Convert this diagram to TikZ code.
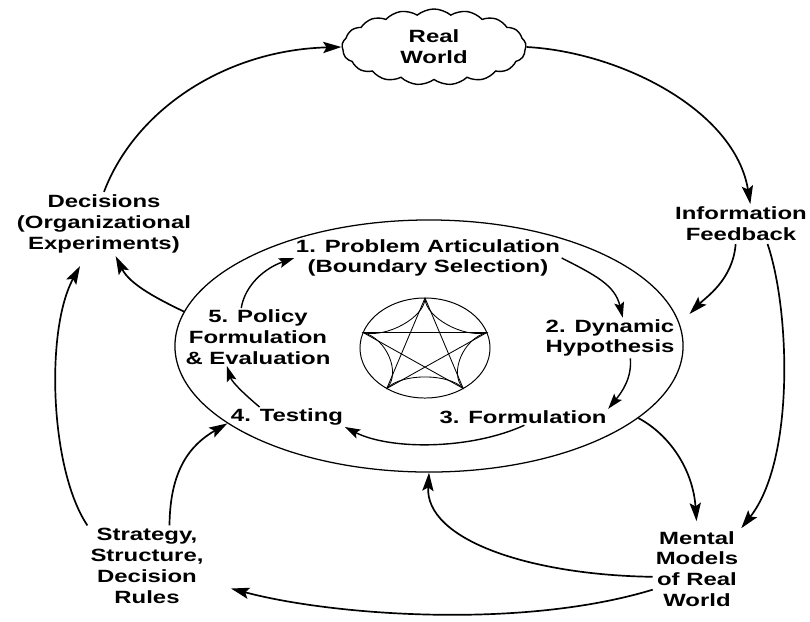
\documentclass[tikz,border=0pt]{standalone}
\usepackage{fontspec}
\setmainfont{Liberation Sans}[FakeStretch=1.35]
\usetikzlibrary{shapes.geometric, shapes.symbols, arrows.meta, calc}
\tikzstyle{term} = [align=center, inner sep=2pt]
\tikzstyle{stage} = [align=center, inner sep=1pt]
\tikzstyle{world} = [cloud, draw, cloud puffs=17, cloud puff arc=80, aspect=2.6, minimum width=4.6cm, minimum height=1.9cm, inner sep=0pt, align=center, line width=1pt]
\tikzstyle{ring} = [ellipse, draw, inner sep=0pt, line width=0.9pt]
\tikzstyle{arrow} = [line width=1.2pt, -{Stealth[length=13pt, width=8pt, inset=2.5pt]}]
\tikzstyle{arrowin} = [line width=1pt, -{Stealth[length=11pt, width=7pt, inset=2pt]}]

\begin{document}
\begin{tikzpicture}[x=0.025cm, y=-0.025cm, font=\fontsize{12.6}{14.8}\selectfont\bfseries]
\useasboundingbox (0,0) rectangle (810,621);

\node (real) [world] at (434,47) {Real\\World};
\node (decisions) [term] at (104,224) {Decisions\\(Organizational\\Experiments)};
\node (info) [term] at (741,224) {Information\\Feedback};
\node (strategy) [term] at (147,566) {Strategy,\\Structure,\\Decision\\Rules};
\node (mental) [term] at (697,569) {Mental\\Models\\of Real\\World};

\node (big) [ring, minimum width=12.7cm, minimum height=6.3cm] at (429,346) {};
\node (small) [ring, minimum width=3.25cm, minimum height=2.5cm, line width=0.7pt] at (425,348) {};

\node (s1) [stage] at (428,258) {1.\enspace Problem Articulation\\(Boundary Selection)};
\node (s2) [stage] at (610,338) {2.\enspace Dynamic\\Hypothesis};
\node (s3) [stage] at (523,417) {3.\enspace Formulation};
\node (s4) [stage] at (287,417) {4.\enspace Testing};
\node (s5) [stage] at (258,337) {5.\enspace Policy\\Formulation\\\& Evaluation};

\foreach \n in {0,...,4}
  \coordinate (v\n) at ($(small)+({65*cos(90+72*\n)},{-50*sin(90+72*\n)})$);
\draw [line width=0.6pt] (v0) -- (v2) -- (v4) -- (v1) -- (v3) -- cycle;
\foreach \a/\b in {0/1,1/2,2/3,3/4,4/0}
  \draw [line width=0.6pt] (v\a) .. controls ($(v\a)!0.38!(small)$) and ($(v\b)!0.38!(small)$) .. (v\b);

\draw [arrow] (decisions.north) .. controls (135,110) and (225,50) .. (real.west);
\draw [arrow] (real.east) .. controls (620,52) and (735,110) .. (info.65);
\draw [arrow, shorten >=10pt] (info.-105) .. controls (733,280) and (705,298) .. (big.5);
\draw [arrow] (info.-37) .. controls (790,310) and (795,460) .. (mental.north east);
\draw [arrow, shorten >=5pt] (big.-19) .. controls (670,435) and (693,470) .. (mental.north);
\draw [arrow] (mental.190) .. controls (530,575) and (425,540) .. (big.south);
\draw [arrow, shorten >=18pt] (mental.205) .. controls (520,630) and (330,615) .. (strategy.-15);
\draw [arrow, shorten >=8pt] (strategy.north west) .. controls (50,470) and (45,330) .. (decisions.-120);
\draw [arrow] (strategy.61) .. controls (170,470) and (190,445) .. (big.201);
\draw [arrow] (big.172) .. controls (160,300) and (130,285) .. (decisions.-70);

\draw [arrowin] (s5.120) .. controls (245,285) and (265,268) .. (s1.west);
\draw [arrowin] (s1.east) .. controls (595,275) and (615,285) .. (s2.58);
\draw [arrowin] (s2.-45) .. controls (632,378) and (622,392) .. (s3.north east);
\draw [arrowin] (s3.-80) .. controls (470,450) and (390,450) .. (s4.south east);
\draw [arrowin] (s4.160) .. controls (243,393) and (232,382) .. (s5.-137);
\end{tikzpicture}
\end{document}
